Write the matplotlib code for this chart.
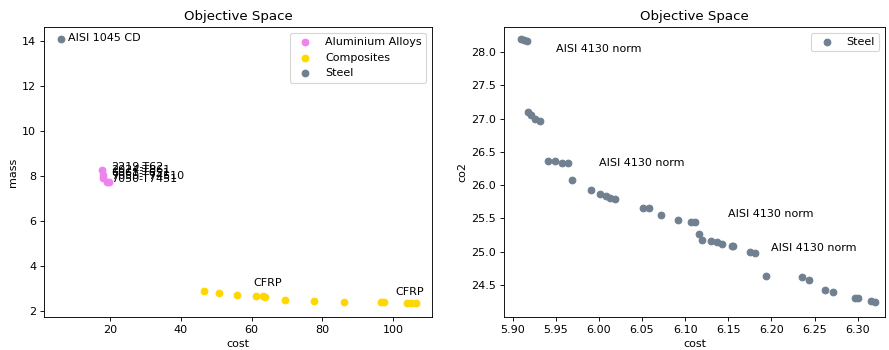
import numpy as np
import matplotlib
matplotlib.use("Agg")
import matplotlib.pyplot as plt

# mass vs cost, per material family
alu_names = ["2219-T62", "2024-T861", "6061-T651", "7050-T74510", "7050-T7451"]
alu_cost = [17.6, 17.9, 18.1, 19.05, 19.6]
alu_mass = [8.28, 8.05, 7.9, 7.75, 7.72]
alu_label_y = [8.40, 8.27, 8.15, 7.99, 7.85]

comp_cost = [46.6, 50.7, 55.8, 61.3, 63.2, 63.9, 69.4, 77.5, 86.2, 96.7, 97.4, 104.0, 105.0, 106.5]
comp_mass = [2.90, 2.79, 2.72, 2.65, 2.65, 2.61, 2.49, 2.44, 2.40, 2.41, 2.41, 2.37, 2.34, 2.34]
comp_labels = [("CFRP", 60.5, 3.25), ("CFRP", 100.5, 2.85)]

steel_cost = [6.0]
steel_mass = [14.1]
steel_label = ("AISI 1045 CD", 8.2, 14.12)

# co2 vs cost for the steel variants
steel2_cost = [5.9093, 5.913, 5.917, 5.918, 5.921, 5.9255, 5.9317, 5.941, 5.949, 5.957,
               5.9646, 5.969, 5.9913, 6.001, 6.008, 6.013, 6.019, 6.051, 6.0575, 6.0714,
               6.092, 6.107, 6.1117, 6.116, 6.1195, 6.130, 6.137, 6.1427, 6.1544, 6.156,
               6.1756, 6.1806, 6.194, 6.235, 6.2441, 6.262, 6.2717, 6.2967, 6.3007, 6.315,
               6.320]
steel2_co2 = [28.20, 28.18, 28.165, 27.10, 27.05, 27.00, 26.97, 26.37, 26.36, 26.34,
              26.34, 26.07, 25.92, 25.86, 25.84, 25.80, 25.79, 25.65, 25.65, 25.55,
              25.48, 25.45, 25.44, 25.26, 25.17, 25.16, 25.14, 25.12, 25.09, 25.08,
              24.99, 24.98, 24.64, 24.62, 24.58, 24.42, 24.39, 24.31, 24.31, 24.26,
              24.24]
steel2_labels = [(5.95, 28.05), (6.00, 26.33), (6.15, 25.56), (6.20, 25.06)]

fig = plt.figure(figsize=(889 / 80, 350 / 80), dpi=80)
ax1 = fig.add_axes([0.0495, 0.0943, 0.4365, 0.8286])
ax2 = fig.add_axes([0.567, 0.0943, 0.4285, 0.8286])

ax1.scatter(alu_cost, alu_mass, color="violet", label="Aluminium Alloys")
ax1.scatter(comp_cost, comp_mass, color="gold", label="Composites")
ax1.scatter(steel_cost, steel_mass, color="slategray", label="Steel")
for name, y in zip(alu_names, alu_label_y):
    ax1.text(20.2, y, name, va="center")
for name, x, y in comp_labels:
    ax1.text(x, y, name, va="center")
ax1.text(steel_label[1], steel_label[2], steel_label[0], va="center")
ax1.set_xlim(1.3, 111)
ax1.set_ylim(1.73, 14.62)
ax1.set_xticks([20, 40, 60, 80, 100])
ax1.set_xlabel("cost")
ax1.set_ylabel("mass")
ax1.set_title("Objective Space")
ax1.legend(loc="upper right")

ax2.scatter(steel2_cost, steel2_co2, color="slategray", label="Steel")
for x, y in steel2_labels:
    ax2.text(x, y, "AISI 4130 norm", va="center")
ax2.set_xlim(5.890, 6.3317)
ax2.set_ylim(24.02, 28.375)
ax2.set_xticks(np.arange(5.90, 6.31, 0.05))
ax2.set_xlabel("cost")
ax2.set_ylabel("co2")
ax2.set_title("Objective Space")
ax2.legend(loc="upper right")

fig.savefig("out.png", dpi=80)
